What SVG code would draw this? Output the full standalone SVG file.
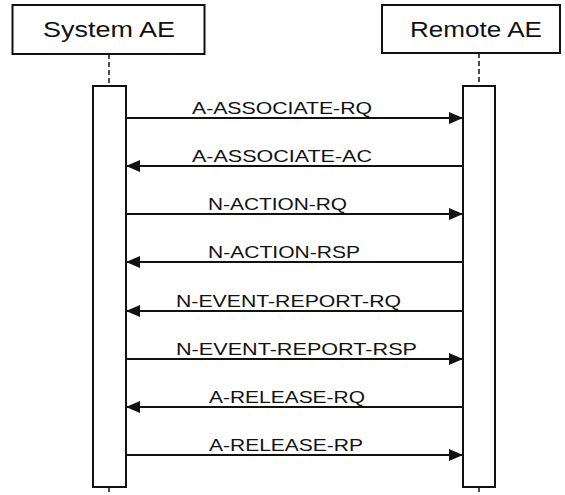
<svg xmlns="http://www.w3.org/2000/svg" width="565" height="495" viewBox="0 0 565 495">
<style>
.box{fill:#fff;stroke:#111;stroke-width:2}
.act{fill:#fff;stroke:#111;stroke-width:2}
.life{stroke:#111;stroke-width:1.5;stroke-dasharray:5 3;fill:none}
.msg{stroke:#111;stroke-width:2;fill:none}
.hdr{font-family:"Liberation Sans",Arial,sans-serif;font-size:22px;fill:#111}
.lbl{font-family:"Liberation Sans",Arial,sans-serif;font-size:17px;fill:#111}
</style>
<defs>
<marker id="ah" viewBox="0 0 14 12" refX="14" refY="6" markerWidth="14" markerHeight="12" markerUnits="userSpaceOnUse" orient="auto">
<path d="M0,0 L14,6 L0,12 Z" fill="#111"/>
</marker>
</defs>
<rect width="565" height="495" fill="#fff"/>
<g id="system-ae">
<rect class="box" x="12.5" y="5" width="192" height="49"/>
<text class="hdr" x="43" y="37" textLength="132" lengthAdjust="spacingAndGlyphs">System AE</text>
<line class="life" x1="109" y1="54" x2="109" y2="86"/>
<line class="life" x1="109" y1="487" x2="109" y2="495"/>
<rect class="act" x="93" y="86" width="33" height="401"/>
</g>
<g id="remote-ae">
<rect class="box" x="382" y="5" width="178" height="48"/>
<text class="hdr" x="410" y="37" textLength="132" lengthAdjust="spacingAndGlyphs">Remote AE</text>
<line class="life" x1="479" y1="53" x2="479" y2="86"/>
<line class="life" x1="479" y1="487" x2="479" y2="495"/>
<rect class="act" x="463" y="86" width="32" height="401"/>
</g>
<g id="connectors">
<line class="msg" x1="126" y1="118" x2="463" y2="118" marker-end="url(#ah)"/>
<text class="lbl" x="192" y="114" textLength="180" lengthAdjust="spacingAndGlyphs">A-ASSOCIATE-RQ</text>
<line class="msg" x1="463" y1="166" x2="126" y2="166" marker-end="url(#ah)"/>
<text class="lbl" x="192" y="162" textLength="180" lengthAdjust="spacingAndGlyphs">A-ASSOCIATE-AC</text>
<line class="msg" x1="126" y1="214" x2="463" y2="214" marker-end="url(#ah)"/>
<text class="lbl" x="208" y="210" textLength="139" lengthAdjust="spacingAndGlyphs">N-ACTION-RQ</text>
<line class="msg" x1="463" y1="262" x2="126" y2="262" marker-end="url(#ah)"/>
<text class="lbl" x="208" y="258" textLength="152" lengthAdjust="spacingAndGlyphs">N-ACTION-RSP</text>
<line class="msg" x1="463" y1="311" x2="126" y2="311" marker-end="url(#ah)"/>
<text class="lbl" x="176" y="307" textLength="225" lengthAdjust="spacingAndGlyphs">N-EVENT-REPORT-RQ</text>
<line class="msg" x1="126" y1="359" x2="463" y2="359" marker-end="url(#ah)"/>
<text class="lbl" x="176" y="355" textLength="241" lengthAdjust="spacingAndGlyphs">N-EVENT-REPORT-RSP</text>
<line class="msg" x1="463" y1="407" x2="126" y2="407" marker-end="url(#ah)"/>
<text class="lbl" x="209" y="403" textLength="156" lengthAdjust="spacingAndGlyphs">A-RELEASE-RQ</text>
<line class="msg" x1="126" y1="455" x2="463" y2="455" marker-end="url(#ah)"/>
<text class="lbl" x="209" y="451" textLength="154" lengthAdjust="spacingAndGlyphs">A-RELEASE-RP</text>
</g>
</svg>
